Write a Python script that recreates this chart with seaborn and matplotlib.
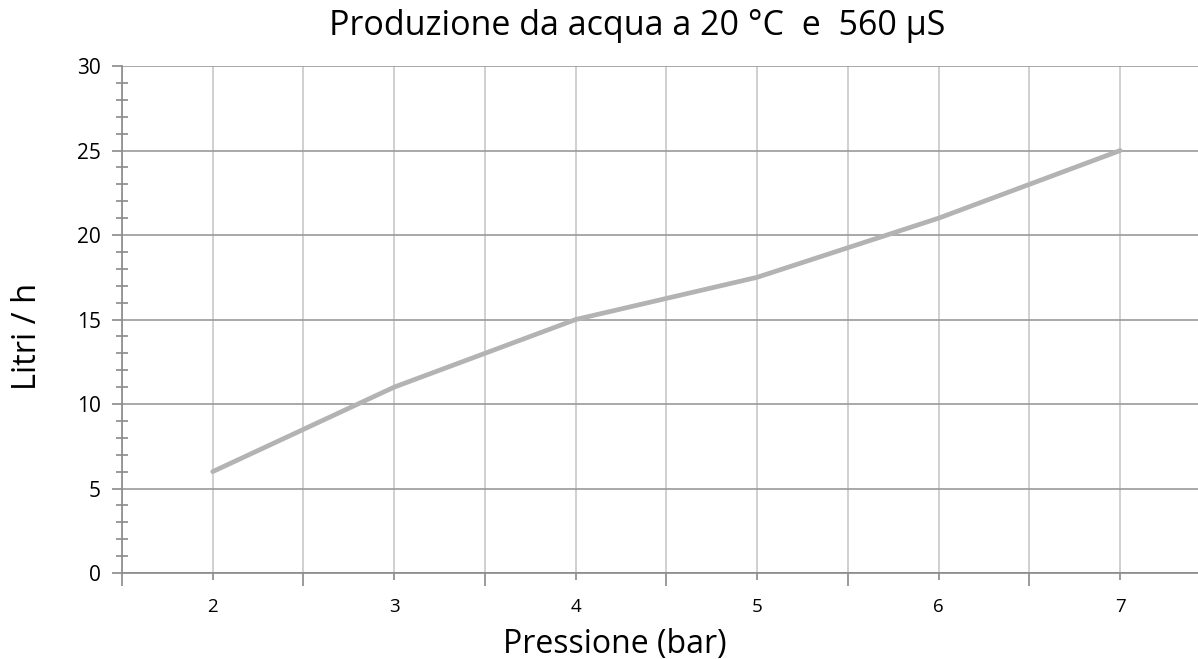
import matplotlib
matplotlib.use("Agg")
import matplotlib.pyplot as plt
import seaborn as sns
import pandas as pd
from matplotlib.ticker import MultipleLocator, FixedLocator

pressione = [2, 3, 4, 5, 6, 7]
litri = [6, 11, 15, 17.5, 21, 25]
title = "Produzione da acqua a 20 °C  e  560 µS"
xlabel = "Pressione (bar)"
ylabel = "Litri / h"

sns.set_style("white")
plt.rcParams['font.family'] = ['Open Sans', 'DejaVu Sans']
plt.rcParams['text.color'] = 'black'
plt.rcParams['axes.labelcolor'] = 'black'
plt.rcParams['xtick.color'] = 'black'
plt.rcParams['ytick.color'] = 'black'

df = pd.DataFrame({"x": pressione, "y": litri})

fig = plt.figure(figsize=(11.98, 6.59), dpi=100)
ax = fig.add_axes([0.1018, 0.1305, 0.8982, 0.7693])

sns.lineplot(data=df, x="x", y="y", ax=ax, color="#b3b3b3", linewidth=3.4)

ax.xaxis.set_major_locator(FixedLocator([1.5, 2.5, 3.5, 4.5, 5.5, 6.5, 7.5]))
ax.xaxis.set_minor_locator(FixedLocator(pressione))
ax.xaxis.set_major_formatter(plt.NullFormatter())
ax.xaxis.set_minor_formatter(plt.FixedFormatter([str(p) for p in pressione]))
ax.yaxis.set_major_locator(MultipleLocator(5))
ax.yaxis.set_minor_locator(MultipleLocator(1))

ax.set_xlim(1.5, 1.5 + (1198 - 122) / 181.5)
ax.set_ylim(0, 30)

ax.grid(True, axis="x", which="both", color="#c8c8c8", linewidth=1.2)
ax.grid(True, axis="y", which="major", color="#9a9a9a", linewidth=1.2)
ax.set_axisbelow(True)

for s in ["top", "right"]:
    ax.spines[s].set_visible(False)
for s in ["left", "bottom"]:
    ax.spines[s].set_color("#8a8a8a")
    ax.spines[s].set_linewidth(1.2)

ax.tick_params(axis="x", which="major", bottom=True, direction="out", length=9,
               color="#8a8a8a", width=1.2)
ax.tick_params(axis="x", which="minor", bottom=True, direction="out", length=5,
               color="#8a8a8a", width=1.2, pad=13, labelsize=13.5, labelcolor="black")
ax.tick_params(axis="y", which="major", left=True, direction="out", length=7,
               color="#8a8a8a", width=1.2, labelsize=15, pad=8, labelcolor="black")
ax.tick_params(axis="y", which="minor", left=True, direction="inout", length=9,
               color="#8a8a8a", width=1.2)

ax.set_xlabel(xlabel, fontsize=23, color="black")
ax.xaxis.set_label_coords(0.458, -0.108)
ax.set_ylabel(ylabel, fontsize=23.5, color="black")
ax.yaxis.set_label_coords(-0.0725, 0.467)
ax.set_title(title, fontsize=24.5, color="black", x=0.479, y=1.061, pad=0)

fig.savefig("out.png", dpi=100)
